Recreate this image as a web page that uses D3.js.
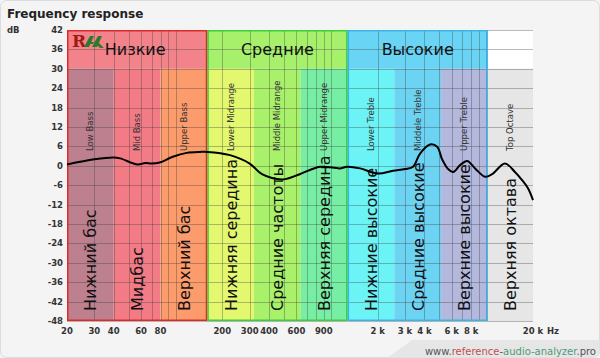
<!DOCTYPE html>
<html><head><meta charset="utf-8">
<script src="https://cdn.jsdelivr.net/npm/d3@7"></script>
<style>html,body{margin:0;padding:0;background:#f3f3f3;}svg{display:block;}</style>
</head><body>
<svg id="c" width="600" height="358"></svg>
<script>
// ---- data ----
const groupNames = ["Низкие", "Средние", "Высокие"];
const groupEdges = [20, 160, 1280, 10240];
const groupColors = ["#f2838a", "#a6f06c", "#6ad4f4"];
const groupStroke = ["#e02a2a", "#3ccf3c", "#3ab4e8"];

const bandEdges = [20, 40, 80, 160, 320, 640, 1280, 2560, 5120, 10240, 20000];
const bandNamesEn = ["Low Bass", "Mid Bass", "Upper Bass", "Lower Midrange", "Middle Midrange", "Upper Midrange", "Lower Treble", "Middele Treble", "Upper Treble", "Top Octave"];
const bandNamesRu = ["Нижний бас", "Мидбас", "Верхний бас", "Нижняя середина", "Средние частоты", "Верхняя середина", "Нижние высокие", "Средние высокие", "Верхние высокие", "Верхняя октава"];
const bandColors = ["#bd808f", "#f27b86", "#fc9b6b", "#e3f76f", "#a9f06b", "#78eea4", "#6cf3f5", "#6cd3f3", "#b4b8dd", "#e6e6e6"];

const freqTicks = [20, 30, 40, 60, 80, 200, 300, 400, 600, 900, 2000, 3000, 4000, 6000, 8000, 20000];
const freqTickLabels = ["20", "30", "40", "60", "80", "200", "300", "400", "600", "900", "2 k", "3 k", "4 k", "6 k", "8 k", "20 k"];
const dbTicks = [42, 36, 30, 24, 18, 12, 6, 0, -6, -12, -18, -24, -30, -36, -42, -48];
const gridFreqs = [30, 40, 50, 60, 70, 80, 90, 100, 200, 300, 400, 500, 600, 700, 800, 900, 1000, 2000, 3000, 4000, 5000, 6000, 7000, 8000, 9000, 10000];

const respFreq = [20, 30, 40, 44, 57, 64, 70, 79, 96, 118, 144, 160, 224, 300, 360, 490, 630, 850, 1150, 1270, 1540, 2010, 2510, 3000, 3380, 3750, 4350, 4830, 5200, 5680, 6120, 6790, 7530, 8480, 9830, 10900, 13200, 15300, 17000, 18600, 20000];
const respDb = [0.4, 2.0, 2.6, 2.3, 0.4, 0.9, 0.7, 1.0, 2.8, 4.0, 4.3, 4.3, 3.3, 0.7, -2.6, -4.2, -2.6, -0.3, -0.8, -0.3, -0.8, -2.4, -1.5, -1.0, -0.3, 3.8, 6.6, 5.9, 2.0, -1.0, -1.9, 0.2, 1.5, -0.8, -3.4, -2.6, 0.7, -1.9, -4.4, -7.0, -10.6];

// ---- layout ----
const svg = d3.select("#c");
const x = d3.scaleLog().domain([20, 20000]).range([67, 533]);
const y = d3.scaleLinear().domain([-48, 42]).range([321, 30]);
const headerBottom = y(30);

// background & footer
svg.append("rect").attr("x", 0.5).attr("y", 0.5).attr("width", 599).attr("height", 357).attr("rx", 6)
  .attr("fill", "#f4f4f4").attr("stroke", "#dcdcdc");
svg.append("path").attr("d", "M388,357.5 L412,340 L599.5,340 L599.5,351 Q599.5,357.5 593,357.5 Z").attr("fill", "#e6e6e6");

// header white over top octave
svg.append("rect").attr("x", x(10240)).attr("y", y(42)).attr("width", x(20000) - x(10240)).attr("height", headerBottom - y(42)).attr("fill", "#ffffff");

// group header rects
groupNames.forEach((g, i) => {
  svg.append("rect").attr("x", x(groupEdges[i])).attr("y", y(42))
    .attr("width", x(groupEdges[i + 1]) - x(groupEdges[i])).attr("height", headerBottom - y(42))
    .attr("fill", groupColors[i]);
});
// bands
bandNamesEn.forEach((b, i) => {
  svg.append("rect").attr("x", x(bandEdges[i])).attr("y", headerBottom)
    .attr("width", x(bandEdges[i + 1]) - x(bandEdges[i])).attr("height", y(-48) - headerBottom)
    .attr("fill", bandColors[i]);
});

// grid
const grid = svg.append("g").attr("stroke", "rgba(60,60,60,0.35)").attr("stroke-width", 1);
dbTicks.forEach(d => {
  grid.append("line").attr("x1", x(20)).attr("x2", x(20000)).attr("y1", Math.round(y(d)) + 0.5).attr("y2", Math.round(y(d)) + 0.5);
});
gridFreqs.forEach(f => {
  grid.append("line").attr("x1", Math.round(x(f)) + 0.5).attr("x2", Math.round(x(f)) + 0.5).attr("y1", y(42)).attr("y2", y(-48));
});

// group borders
groupNames.forEach((g, i) => {
  svg.append("rect").attr("x", x(groupEdges[i]) + 0.75).attr("y", y(42) + 0.75)
    .attr("width", x(groupEdges[i + 1]) - x(groupEdges[i]) - 1.5).attr("height", y(-48) - y(42) - 1.5)
    .attr("fill", "none").attr("stroke", groupStroke[i]).attr("stroke-width", 1.5);
});

// group labels
groupNames.forEach((g, i) => {
  svg.append("text").attr("x", (x(groupEdges[i]) + x(groupEdges[i + 1])) / 2 + (i === 0 ? -2 : 0)).attr("y", 55)
    .attr("text-anchor", "middle").attr("font-family", "DejaVu Sans").attr("font-size", 16)
    .attr("fill", "#111").text(g);
});

// logo
const logo = svg.append("g").attr("transform", "translate(72,33)");
logo.append("text").attr("x", 0).attr("y", 14).attr("font-family", "DejaVu Serif").attr("font-weight", "bold")
  .attr("font-size", 17).attr("fill", "#a01818").text("R");
logo.append("path").attr("d", "M12,14 L18,3 L22,3 L17,14 Z M17,9 L22,9 L21,11 L16,11 Z").attr("fill", "#2f7a2a");
logo.append("path").attr("d", "M20,14 L26,3 L30,3 L25,14 Z M26,9 L32,15 L28,15 L24,11 Z").attr("fill", "#2f7a2a");

// band labels
bandNamesEn.forEach((b, i) => {
  const cx = (x(bandEdges[i]) + x(bandEdges[i + 1])) / 2;
  svg.append("text").attr("transform", `translate(${cx + 3},151) rotate(-90)`)
    .attr("font-family", "DejaVu Sans").attr("font-size", 8.5).attr("fill", "#333").text(b);
  svg.append("text").attr("transform", `translate(${cx + 6},311) rotate(-90)`)
    .attr("font-family", "DejaVu Sans").attr("font-size", 16).attr("fill", "#111").text(bandNamesRu[i]);
});

// curve
const line = d3.line().x((d, i) => x(respFreq[i])).y(d => y(d)).curve(d3.curveCatmullRom.alpha(0.5));
svg.append("path").attr("d", line(respDb)).attr("fill", "none").attr("stroke", "#000").attr("stroke-width", 2);

// axes labels
const lab = svg.append("g").attr("font-family", "DejaVu Sans").attr("font-weight", "bold").attr("font-size", 8.5).attr("fill", "#333");
dbTicks.forEach(d => {
  lab.append("text").attr("x", 63).attr("y", y(d) + 3).attr("text-anchor", "end").text(d);
});
freqTicks.forEach((f, i) => {
  lab.append("text").attr("x", x(f)).attr("y", 334).attr("text-anchor", "middle").text(freqTickLabels[i]);
});
lab.append("text").attr("x", 547).attr("y", 334).text("Hz");
lab.append("text").attr("x", 7).attr("y", 33).text("dB");

// title
svg.append("text").attr("x", 7).attr("y", 18).attr("font-family", "DejaVu Sans").attr("font-weight", "bold")
  .attr("font-size", 12).attr("fill", "#222").text("Frequency response");

// footer
const ft = svg.append("text").attr("x", 596).attr("y", 354.5).attr("text-anchor", "end")
  .attr("font-family", "DejaVu Sans").attr("font-size", 10).attr("fill", "#555");
ft.append("tspan").text("www.");
ft.append("tspan").attr("fill", "#c0504d").text("reference");
ft.append("tspan").text("-");
ft.append("tspan").attr("fill", "#4f9a76").text("audio-analyzer");
ft.append("tspan").text(".pro");
</script>
</body></html>
